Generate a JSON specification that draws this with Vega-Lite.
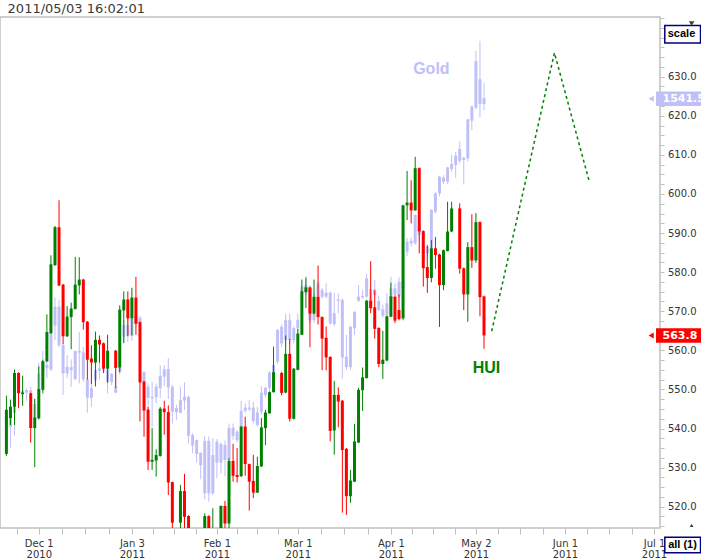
{
  "$schema": "https://vega.github.io/schema/vega-lite/v6.json",
  "width": 660,
  "height": 511,
  "autosize": {"type": "none"},
  "padding": {"left": 0, "top": 17, "right": 41, "bottom": 30},
  "background": "white",
  "config": {"view": {"stroke": "#c0c0c0", "strokeWidth": 1.5}},
  "datasets": {
    "bars": [
      {"t":-8,"o":533.5,"h":548.4,"l":533.0,"c":544.8,"go":1352,"gh":1362,"gl":1347,"gc":1358},
      {"t":-7,"o":542.7,"h":547.4,"l":540.9,"c":545.6,"go":1358,"gh":1361,"gl":1340,"gc":1352},
      {"t":-6,"o":545.6,"h":555.1,"l":540.9,"c":554.2,"go":1360,"gh":1373,"gl":1347,"gc":1371.5},
      {"t":-5,"o":554.2,"h":554.4,"l":545.2,"c":549.0,"go":1371.5,"gh":1375,"gl":1366,"gc":1372.5},
      {"t":-4,"o":548.8,"h":553.5,"l":545.8,"c":549.2,"go":1372.8,"gh":1376,"gl":1369,"gc":1371.3},
      {"t":-3,"go":1371.6,"gh":1374.2,"gl":1367,"gc":1373.2},
      {"t":-2,"o":549.0,"h":549.2,"l":536.4,"c":540.1,"go":1373,"gh":1375,"gl":1369,"gc":1371.6},
      {"t":-1,"o":540.1,"h":547.6,"l":530.1,"c":542.8,"go":1356.9,"gh":1368,"gl":1352,"gc":1365.1},
      {"t":0,"o":542.6,"h":555.9,"l":542.3,"c":550.1,"go":1373.6,"gh":1388.9,"gl":1372,"gc":1382.8},
      {"t":1,"o":549.9,"h":557.6,"l":549.0,"c":557.2,"go":1383.7,"gh":1395.7,"gl":1382,"gc":1389.5},
      {"t":2,"o":557.2,"h":569.2,"l":557.0,"c":564.7,"go":1385.7,"gh":1392,"gl":1380,"gc":1387.6},
      {"t":3,"o":564.4,"h":584.3,"l":564.2,"c":582.0,"go":1385.1,"gh":1407,"gl":1384,"gc":1405.9},
      {"t":4,"o":581.8,"h":591.8,"l":581.6,"c":591.5,"go":1410.3,"gh":1426.6,"gl":1402,"gc":1421.2},
      {"t":5,"o":591.5,"h":598.4,"l":576.4,"c":576.6,"go":1421.2,"gh":1425.1,"gl":1398,"gc":1399.1},
      {"t":6,"o":576.8,"h":577.0,"l":561.6,"c":563.6,"go":1399.1,"gh":1400,"gl":1370.3,"gc":1382.8},
      {"t":7,"o":563.6,"h":571.3,"l":563.4,"c":568.6,"go":1382.8,"gh":1393.4,"gl":1380,"gc":1386.6},
      {"t":8,"o":568.5,"h":572.2,"l":560.3,"c":570.7,"go":1386.4,"gh":1390.9,"gl":1375,"gc":1384.7},
      {"t":9,"o":570.6,"h":583.9,"l":570.4,"c":576.8,"go":1379.5,"gh":1395.9,"gl":1379,"gc":1395.7},
      {"t":10,"o":576.6,"h":583.8,"l":574.3,"c":578.1,"go":1395.7,"gh":1406.6,"gl":1377,"gc":1394.7},
      {"t":11,"o":578.1,"h":578.3,"l":565.3,"c":567.2,"go":1394.9,"gh":1398.2,"gl":1378,"gc":1379.4},
      {"t":12,"o":567.3,"h":567.5,"l":552.5,"c":557.6,"go":1379.4,"gh":1379.6,"gl":1360.1,"gc":1368.7},
      {"t":13,"o":557.9,"h":561.3,"l":551.4,"c":556.9,"go":1368.7,"gh":1385.7,"gl":1363.5,"gc":1374.2},
      {"t":14,"o":556.9,"h":564.8,"l":550.8,"c":562.7,"go":1378.9,"gh":1394.3,"gl":1375.1,"gc":1384.7},
      {"t":15,"o":562.7,"h":563.8,"l":556.8,"c":561.5,"go":1384.1,"gh":1388.9,"gl":1379.5,"gc":1385.7},
      {"t":16,"o":561.8,"h":562.0,"l":554.2,"c":555.3,"go":1384.4,"gh":1392.4,"gl":1382.8,"gc":1385.1},
      {"t":17,"o":555.3,"h":564.0,"l":551.7,"c":559.9,"go":1384.9,"gh":1386,"gl":1371.3,"gc":1377.9},
      {"t":18,"go":1377.8,"gh":1383,"gl":1376,"gc":1382.4},
      {"t":19,"o":559.9,"h":560.1,"l":550.4,"c":555.5,"go":1375.1,"gh":1386.6,"gl":1371.3,"gc":1371.6},
      {"t":20,"o":555.6,"h":571.5,"l":554.4,"c":570.4,"go":1383.7,"gh":1387,"gl":1382,"gc":1386.0},
      {"t":21,"o":570.2,"h":575.1,"l":561.9,"c":573.0,"go":1403.9,"gh":1413.5,"gl":1400.1,"gc":1410.7},
      {"t":22,"o":573.0,"h":575.1,"l":563.6,"c":568.2,"go":1410.7,"gh":1414.7,"gl":1400.9,"gc":1404.5},
      {"t":23,"o":568.2,"h":576.0,"l":563.8,"c":573.5,"go":1404.5,"gh":1416.6,"gl":1401.5,"gc":1414.3},
      {"t":24,"o":573.5,"h":578.8,"l":564.0,"c":566.8,"go":1415.9,"gh":1417,"gl":1410,"gc":1411.6},
      {"t":25,"o":567.2,"h":567.4,"l":541.8,"c":551.8,"go":1414.9,"gh":1416,"gl":1410,"gc":1411.6},
      {"t":26,"o":552.0,"h":552.2,"l":537.9,"c":544.6,"go":1383.6,"gh":1384,"gl":1361.6,"gc":1378},
      {"t":27,"o":544.8,"h":545.5,"l":529.4,"c":531.5,"go":1375.1,"gh":1377,"gl":1359.7,"gc":1368.7},
      {"t":28,"o":531.5,"h":540.1,"l":529.4,"c":532.0,"go":1369.3,"gh":1377.8,"gl":1352,"gc":1368.4},
      {"t":29,"o":531.8,"h":534.7,"l":527.7,"c":533.2,"go":1369,"gh":1377,"gl":1365.5,"gc":1375.1},
      {"t":30,"o":533.0,"h":545.5,"l":532.8,"c":545.1,"go":1374.2,"gh":1387.4,"gl":1368.4,"gc":1381.3},
      {"t":31,"o":545.1,"h":547.1,"l":538.4,"c":544.2,"go":1380.9,"gh":1387.4,"gl":1375.5,"gc":1385.1},
      {"t":32,"o":544.2,"h":545.9,"l":523.0,"c":526.2,"go":1385.3,"gh":1391.5,"gl":1368,"gc":1374.7},
      {"t":33,"o":526.3,"h":526.4,"l":512,"c":515.9,"go":1375.1,"gh":1376,"gl":1353.9,"gc":1360.7},
      {"t":34,"go":1362.8,"gh":1364.5,"gl":1355.9,"gc":1360.3},
      {"t":35,"o":515.9,"h":525.6,"l":514.3,"c":524.0,"go":1360.1,"gh":1375.1,"gl":1359.7,"gc":1367.4},
      {"t":36,"o":524.0,"h":528.4,"l":513,"c":517.4,"go":1367.1,"gh":1377.6,"gl":1361.6,"gc":1369.3},
      {"t":37,"o":517.6,"h":517.8,"l":510,"c":512,"go":1369.3,"gh":1369.7,"gl":1342.3,"gc":1346.8},
      {"t":38,"o":511,"h":513,"l":507,"c":509,"go":1347.2,"gh":1348.2,"gl":1336.7,"gc":1341.1},
      {"t":39,"o":509,"h":512,"l":506,"c":510,"go":1344.3,"gh":1344.5,"gl":1331.3,"gc":1336.3},
      {"t":40,"o":510,"h":513,"l":507,"c":512,"go":1337,"gh":1337.2,"gl":1321.7,"gc":1329.8},
      {"t":41,"o":513,"h":518.3,"l":511,"c":517.6,"go":1313.6,"gh":1346.7,"gl":1310.1,"gc":1343.8},
      {"t":42,"o":517.6,"h":517.8,"l":511,"c":513,"go":1343.8,"gh":1346.3,"gl":1308.8,"gc":1313.6},
      {"t":43,"o":512,"h":519.6,"l":510,"c":514,"go":1313.6,"gh":1345.3,"gl":1312.6,"gc":1335.7},
      {"t":44,"o":513,"h":514.5,"l":510,"c":512,"go":1331.3,"gh":1344.9,"gl":1322.3,"gc":1343.4},
      {"t":45,"o":513,"h":520.3,"l":512,"c":520.2,"go":1331.3,"gh":1342.8,"gl":1325.1,"gc":1342},
      {"t":46,"o":520.2,"h":521.5,"l":514,"c":515.7,"go":1341.5,"gh":1344,"gl":1323.6,"gc":1332.8},
      {"t":47,"o":515.7,"h":532.4,"l":514,"c":531.7,"go":1332.8,"gh":1353.9,"gl":1331.8,"gc":1351.4},
      {"t":48,"o":531.7,"h":536.1,"l":526.4,"c":527.9,"go":1351.4,"gh":1353.9,"gl":1344.3,"gc":1346.7},
      {"t":49,"o":528.1,"h":535.0,"l":526.2,"c":527.6,"go":1344.3,"gh":1350,"gl":1343,"gc":1349.1},
      {"t":50,"o":527.8,"h":540.6,"l":527.6,"c":540.5,"go":1352,"gh":1367,"gl":1351,"gc":1361.2},
      {"t":51,"o":540.5,"h":543.0,"l":527.9,"c":530.9,"go":1361.2,"gh":1365.5,"gl":1360,"gc":1363},
      {"t":52,"o":530.9,"h":531.0,"l":519.0,"c":526.4,"go":1363,"gh":1367.4,"gl":1361,"gc":1362},
      {"t":53,"o":526.6,"h":533.3,"l":522.2,"c":523.6,"go":1363,"gh":1366.4,"gl":1354,"gc":1355.3},
      {"t":54,"o":523.6,"h":532.8,"l":523.5,"c":530.4,"go":1353,"gh":1363.5,"gl":1352,"gc":1360.3},
      {"t":55,"o":530.3,"h":542.7,"l":530.2,"c":540.3,"go":1360.7,"gh":1375.5,"gl":1359,"gc":1371.6},
      {"t":56,"o":540.1,"h":544.8,"l":535.8,"c":544.1,"go":1370.3,"gh":1375.1,"gl":1369,"gc":1374.5},
      {"t":57,"o":543.9,"h":549.5,"l":543.8,"c":549.3,"go":1374.2,"gh":1384,"gl":1373,"gc":1383.2},
      {"t":58,"o":549.3,"h":560.9,"l":549.2,"c":554.4,"go":1383.2,"gh":1388,"gl":1382,"gc":1387.6},
      {"t":59,"go":1389.5,"gh":1408.4,"gl":1388,"gc":1407.8},
      {"t":60,"o":554.2,"h":554.5,"l":548.5,"c":549.1,"go":1409.7,"gh":1411,"gl":1398,"gc":1400},
      {"t":61,"o":549.2,"h":563.8,"l":549.0,"c":559.1,"go":1402,"gh":1417,"gl":1398.2,"gc":1413.5},
      {"t":62,"o":559.1,"h":562.9,"l":541.8,"c":542.5,"go":1413.5,"gh":1417,"gl":1400,"gc":1402},
      {"t":63,"o":542.5,"h":555.5,"l":542.3,"c":555.3,"go":1402,"gh":1409.7,"gl":1400,"gc":1408.8},
      {"t":64,"o":555.0,"h":565.5,"l":554.9,"c":564.3,"go":1408.8,"gh":1417.4,"gl":1407,"gc":1413.5},
      {"t":65,"o":564.0,"h":578.1,"l":563.9,"c":575.1,"go":1429.9,"gh":1434,"gl":1428,"gc":1432.8},
      {"t":66,"o":574.9,"h":578.6,"l":570.8,"c":576.1,"go":1429.3,"gh":1439,"gl":1428,"gc":1433.7},
      {"t":67,"o":576.1,"h":576.3,"l":560.8,"c":569.4,"go":1431.8,"gh":1433.7,"gl":1412,"gc":1413.5},
      {"t":68,"o":569.4,"h":578.1,"l":569.2,"c":573.7,"go":1413.5,"gh":1429,"gl":1412,"gc":1417},
      {"t":69,"o":573.7,"h":581.7,"l":566.6,"c":568.5,"go":1427,"gh":1436,"gl":1426,"gc":1434.7},
      {"t":70,"o":568.5,"h":568.7,"l":554.9,"c":563.0,"go":1430.9,"gh":1432,"gl":1426,"gc":1427},
      {"t":71,"o":563.2,"h":566.1,"l":554.9,"c":558.2,"go":1429.3,"gh":1434.7,"gl":1426,"gc":1427},
      {"t":72,"o":558.3,"h":558.5,"l":536.7,"c":539.4,"go":1429.3,"gh":1430,"gl":1411,"gc":1411.6},
      {"t":73,"o":539.5,"h":552.2,"l":533.3,"c":548.6,"go":1411.2,"gh":1429.3,"gl":1410,"gc":1417.4},
      {"t":74,"o":548.6,"h":550.5,"l":540.3,"c":546.9,"go":1425.5,"gh":1429,"gl":1417.4,"gc":1424.7},
      {"t":75,"o":547.1,"h":547.3,"l":518.5,"c":534.5,"go":1425.1,"gh":1426,"gl":1379.9,"gc":1391.9},
      {"t":76,"o":534.8,"h":535.0,"l":517.9,"c":522.7,"go":1392.4,"gh":1404.9,"gl":1384.7,"gc":1386.3},
      {"t":77,"o":522.7,"h":529.4,"l":521.0,"c":526.7,"go":1386.3,"gh":1410,"gl":1385,"gc":1409.7},
      {"t":78,"o":526.4,"h":541.2,"l":526.3,"c":536.7,"go":1408.8,"gh":1418.5,"gl":1404.9,"gc":1418.3},
      {"t":79,"o":536.4,"h":550.4,"l":536.3,"c":549.9,"go":1424.7,"gh":1433.7,"gl":1424,"gc":1427},
      {"t":80,"o":549.8,"h":555.6,"l":544.5,"c":553.1,"go":1426.6,"gh":1430.9,"gl":1426,"gc":1427.4},
      {"t":81,"o":552.9,"h":572.9,"l":552.8,"c":572.7,"go":1427,"gh":1440.1,"gl":1426.5,"gc":1437.6},
      {"t":82,"o":572.7,"h":582.8,"l":569.5,"c":570.8,"go":1431.3,"gh":1432,"gl":1420,"gc":1420.3},
      {"t":83,"o":571.0,"h":575.3,"l":563.0,"c":565.5,"go":1428,"gh":1436.6,"gl":1427,"gc":1431.3},
      {"t":84,"o":565.7,"h":565.9,"l":555.7,"c":556.5,"go":1424.5,"gh":1427.6,"gl":1418.5,"gc":1419.3},
      {"t":85,"o":556.5,"h":565.0,"l":552.7,"c":557.6,"go":1419.7,"gh":1422.5,"gl":1415,"gc":1415.9},
      {"t":86,"o":557.4,"h":568.9,"l":557.2,"c":568.7,"go":1416.4,"gh":1429,"gl":1415.5,"gc":1423.2},
      {"t":87,"o":568.6,"h":577.3,"l":568.5,"c":573.8,"go":1426,"gh":1438.5,"gl":1425.1,"gc":1431.8},
      {"t":88,"o":573.7,"h":574.0,"l":567.0,"c":567.6,"go":1431.8,"gh":1434.7,"gl":1427,"gc":1428},
      {"t":89,"o":570.3,"h":574.3,"l":567.7,"c":568.0,"go":1427,"gh":1438.2,"gl":1426,"gc":1435.6},
      {"t":90,"o":568.2,"h":597.2,"l":567.7,"c":597.1,"go":1432,"gh":1438,"gl":1430,"gc":1436},
      {"t":91,"o":597.1,"h":605.9,"l":593.3,"c":597.8,"go":1453,"gh":1460.7,"gl":1450.5,"gc":1458.7},
      {"t":92,"o":597.8,"h":603.5,"l":592.5,"c":595.8,"go":1459.3,"gh":1461.2,"gl":1456,"gc":1457.8},
      {"t":93,"o":595.8,"h":609.5,"l":595.7,"c":606.6,"go":1457.8,"gh":1474.5,"gl":1457,"gc":1474.1},
      {"t":94,"o":606.6,"h":606.8,"l":584.8,"c":590.4,"go":1467.4,"gh":1470,"gl":1460,"gc":1462.6},
      {"t":95,"o":590.5,"h":590.7,"l":576.3,"c":581.0,"go":1456.8,"gh":1458,"gl":1450,"gc":1452},
      {"t":96,"o":581.3,"h":586.9,"l":574.7,"c":578.5,"go":1452,"gh":1457,"gl":1450,"gc":1455.8},
      {"t":97,"o":578.5,"h":588.2,"l":577.4,"c":586.1,"go":1453.9,"gh":1477.5,"gl":1453,"gc":1477},
      {"t":98,"o":586.1,"h":589.0,"l":580.9,"c":584.4,"go":1476,"gh":1487.2,"gl":1475,"gc":1486.6},
      {"t":99,"o":584.5,"h":584.7,"l":566.0,"c":576.7,"go":1486.6,"gh":1496.8,"gl":1485,"gc":1496.2},
      {"t":100,"o":576.7,"h":585.8,"l":575.4,"c":585.6,"go":1493.3,"gh":1497,"gl":1492,"gc":1495.6},
      {"t":101,"o":585.4,"h":598.0,"l":585.3,"c":590.4,"go":1493.3,"gh":1501.8,"gl":1492,"gc":1501.6},
      {"t":102,"o":590.4,"h":598.0,"l":590.2,"c":596.3,"go":1500.6,"gh":1508.8,"gl":1499,"gc":1503.5},
      {"t":103,"go":1502.9,"gh":1510.6,"gl":1495.6,"gc":1508.3},
      {"t":104,"o":596.3,"h":597.6,"l":579.6,"c":580.9,"go":1505.4,"gh":1516.4,"gl":1504,"gc":1512.2},
      {"t":105,"o":581.0,"h":581.2,"l":570.3,"c":574.3,"go":1507.1,"gh":1507.5,"gl":1491.7,"gc":1505.8},
      {"t":106,"o":574.3,"h":587.7,"l":567.3,"c":586.4,"go":1506.8,"gh":1529.5,"gl":1505,"gc":1529.3},
      {"t":107,"o":586.4,"h":594.8,"l":581.1,"c":583.0,"go":1528.5,"gh":1537.5,"gl":1523.1,"gc":1536.6},
      {"t":108,"o":583.0,"h":595.1,"l":582.4,"c":592.8,"go":1536,"gh":1568.7,"gl":1535,"gc":1562.9},
      {"t":109,"o":592.8,"h":593.0,"l":568.7,"c":573.6,"go":1552.4,"gh":1574.5,"gl":1530.4,"gc":1538.1},
      {"t":110,"o":573.8,"h":574.0,"l":560.4,"c":563.8,"go":1538.1,"gh":1550.1,"gl":1534.7,"gc":1541.5}
    ],
    "proj": [
      {"t": 111.9, "v": 564.9},
      {"t": 127.4, "v": 636.1},
      {"t": 135.9, "v": 603.6}
    ]
  },
  "layer": [
    {
      "data": {"name": "bars"},
      "layer": [
        {
          "mark": {"type": "rule", "color": "#c0c0f8", "strokeWidth": 1},
          "encoding": {
            "x": {"field": "t", "type": "quantitative", "scale": {"domain": [-8.35, 152.25], "nice": false, "zero": false},
              "axis": {
                "values": [-5.5, 0, 5.75, 11.5, 17.25, 23, 28.25, 33.5, 38.75, 44, 49, 54, 59, 64, 69.75, 75.5, 81.25, 87, 92.25, 97.5, 102.75, 108, 113.5, 119, 124.5, 130, 135.5, 141, 146.5, 152],
                "tickCount": 200,
                "labelExpr": "datum.value == 0 ? ['Dec 1','2010'] : datum.value == 23 ? ['Jan 3','2011'] : datum.value == 44 ? ['Feb 1','2011'] : datum.value == 64 ? ['Mar 1','2011'] : datum.value == 87 ? ['Apr 1','2011'] : datum.value == 108 ? ['May 2','2011'] : datum.value == 130 ? ['Jun 1','2011'] : datum.value == 152 ? ['Jul 1','2011'] : ''",
                "title": null, "grid": false, "domain": false,
                "tickColor": "#c0c0c0", "tickWidth": 1, "tickSize": 6,
                "labelFont": "DejaVu Sans", "labelFontSize": 10, "labelColor": "#333333",
                "labelPadding": 4, "labelLineHeight": 11,
                "labelOverlap": false, "labelBound": false, "labelFlush": false
              }
            },
            "y": {"field": "gl", "type": "quantitative", "scale": {"domain": [1293.6, 1588.3], "nice": false, "zero": false}, "axis": null},
            "y2": {"field": "gh"}
          }
        },
        {
          "mark": {"type": "bar", "color": "#c0c0f8", "width": 3, "orient": "vertical"},
          "encoding": {
            "x": {"field": "t", "type": "quantitative", "title": null},
            "y": {"field": "go", "type": "quantitative", "title": null},
            "y2": {"field": "gc"}
          }
        },
        {
          "data": {"values": [{}]},
          "mark": {"type": "text", "text": "Gold", "font": "Liberation Sans", "fontSize": 16, "fontWeight": "bold", "color": "#c0c0f8", "align": "center", "baseline": "alphabetic"},
          "encoding": {
            "x": {"datum": 97, "type": "quantitative"},
            "y": {"datum": 1555.2, "type": "quantitative"}
          }
        },
        {
          "data": {"values": [{}]},
          "mark": {"type": "rule", "color": "#c0c0f8", "strokeWidth": 14.5, "strokeCap": "butt"},
          "encoding": {
            "x": {"datum": 152.5, "type": "quantitative"},
            "x2": {"datum": 165},
            "y": {"datum": 1541.1, "type": "quantitative"}
          }
        },
        {
          "data": {"values": [{}]},
          "mark": {"type": "point", "shape": "triangle-left", "filled": true, "size": 36, "color": "#c0c0f8", "opacity": 1},
          "encoding": {
            "x": {"datum": 151.3, "type": "quantitative"},
            "y": {"datum": 1541.1, "type": "quantitative"}
          }
        },
        {
          "data": {"values": [{}]},
          "mark": {"type": "text", "text": "1541.5", "font": "DejaVu Sans", "fontSize": 11, "fontWeight": "bold", "color": "white", "align": "left", "baseline": "middle"},
          "encoding": {
            "x": {"datum": 154.1, "type": "quantitative"},
            "y": {"datum": 1541.0, "type": "quantitative"}
          }
        }
      ]
    },
    {
      "data": {"name": "bars"},
      "layer": [
        {
          "mark": {"type": "rule", "strokeWidth": 1, "clip": true},
          "encoding": {
            "x": {"field": "t", "type": "quantitative", "title": null},
            "y": {"field": "l", "type": "quantitative", "scale": {"domain": [514.55, 645.27], "nice": false, "zero": false},
              "axis": {
                "orient": "right",
                "values": [515,517.5,520,522.5,525,527.5,530,532.5,535,537.5,540,542.5,545,547.5,550,552.5,555,557.5,560,562.5,565,567.5,570,572.5,575,577.5,580,582.5,585,587.5,590,592.5,595,597.5,600,602.5,605,607.5,610,612.5,615,617.5,620,622.5,625,627.5,630,632.5,635,637.5,640,642.5,645],
                "tickCount": 200,
                "labelExpr": "datum.value % 10 == 0 ? datum.label : ''",
                "title": null, "grid": false, "domain": false,
                "tickColor": "#c0c0c0", "tickSize": 4, "tickWidth": 1,
                "labelPadding": 3.5, "labelFont": "DejaVu Sans", "labelFontSize": 10, "labelColor": "#333333",
                "labelOverlap": false, "labelBound": false, "labelFlush": false
              }
            },
            "y2": {"field": "h"},
            "color": {"condition": {"test": "datum.c >= datum.o", "value": "#008000"}, "value": "#ff0000"}
          }
        },
        {
          "mark": {"type": "bar", "width": 3, "orient": "vertical", "clip": true},
          "encoding": {
            "x": {"field": "t", "type": "quantitative", "title": null},
            "y": {"field": "o", "type": "quantitative", "title": null},
            "y2": {"field": "c"},
            "color": {"condition": {"test": "datum.c >= datum.o", "value": "#008000"}, "value": "#ff0000"}
          }
        },
        {
          "data": {"name": "proj"},
          "mark": {"type": "line", "color": "#008000", "strokeDash": [3, 3], "strokeWidth": 1.5},
          "encoding": {
            "x": {"field": "t", "type": "quantitative", "title": null},
            "y": {"field": "v", "type": "quantitative", "title": null}
          }
        },
        {
          "data": {"values": [{}]},
          "mark": {"type": "text", "text": "HUI", "font": "Liberation Sans", "fontSize": 16, "fontWeight": "bold", "color": "#008000", "align": "center", "baseline": "alphabetic"},
          "encoding": {
            "x": {"datum": 110.6, "type": "quantitative"},
            "y": {"datum": 554.2, "type": "quantitative"}
          }
        },
        {
          "data": {"values": [{}]},
          "mark": {"type": "text", "text": "2011/05/03 16:02:01", "font": "DejaVu Sans", "fontSize": 13, "color": "#3a3a3a", "align": "left", "baseline": "alphabetic"},
          "encoding": {
            "x": {"datum": -7.71, "type": "quantitative"},
            "y": {"datum": 646.37, "type": "quantitative"}
          }
        },
        {
          "data": {"values": [{}]},
          "mark": {"type": "rule", "color": "#ff0000", "strokeWidth": 14.5, "strokeCap": "butt"},
          "encoding": {
            "x": {"datum": 152.5, "type": "quantitative"},
            "x2": {"datum": 165},
            "y": {"datum": 563.8, "type": "quantitative"}
          }
        },
        {
          "data": {"values": [{}]},
          "mark": {"type": "point", "shape": "triangle-left", "filled": true, "size": 36, "color": "#ff0000", "opacity": 1},
          "encoding": {
            "x": {"datum": 151.3, "type": "quantitative"},
            "y": {"datum": 563.8, "type": "quantitative"}
          }
        },
        {
          "data": {"values": [{}]},
          "mark": {"type": "text", "text": "563.8", "font": "DejaVu Sans", "fontSize": 11, "fontWeight": "bold", "color": "white", "align": "left", "baseline": "middle"},
          "encoding": {
            "x": {"datum": 154.1, "type": "quantitative"},
            "y": {"datum": 563.7, "type": "quantitative"}
          }
        },
        {
          "data": {"values": [{}]},
          "mark": {"type": "rect", "fill": "white", "stroke": "#000080", "strokeWidth": 1.5},
          "encoding": {
            "x": {"datum": 154.67, "type": "quantitative"},
            "x2": {"datum": 163.5},
            "y": {"datum": 643.1, "type": "quantitative"},
            "y2": {"datum": 638.6}
          }
        },
        {
          "data": {"values": [{}]},
          "mark": {"type": "text", "text": "scale", "font": "Liberation Sans", "fontSize": 11, "fontWeight": "bold", "color": "black", "align": "left", "baseline": "middle"},
          "encoding": {
            "x": {"datum": 155.4, "type": "quantitative"},
            "y": {"datum": 640.8, "type": "quantitative"}
          }
        },
        {
          "data": {"values": [{}]},
          "mark": {"type": "rect", "fill": "white", "stroke": "#000080", "strokeWidth": 1.5},
          "encoding": {
            "x": {"datum": 154.67, "type": "quantitative"},
            "x2": {"datum": 163.5},
            "y": {"datum": 512.17, "type": "quantitative"},
            "y2": {"datum": 508.23}
          }
        },
        {
          "data": {"values": [{}]},
          "mark": {"type": "text", "text": "all (1)", "font": "Liberation Sans", "fontSize": 11, "fontWeight": "bold", "color": "black", "align": "left", "baseline": "middle"},
          "encoding": {
            "x": {"datum": 155.5, "type": "quantitative"},
            "y": {"datum": 510.2, "type": "quantitative"}
          }
        },
        {
          "data": {"values": [{}]},
          "mark": {"type": "point", "shape": "triangle-down", "filled": true, "size": 30, "color": "#404040", "opacity": 1},
          "encoding": {
            "x": {"datum": 161.3, "type": "quantitative"},
            "y": {"datum": 643.6, "type": "quantitative"}
          }
        },
        {
          "data": {"values": [{}]},
          "mark": {"type": "point", "shape": "triangle-up", "filled": true, "size": 14, "color": "#404040", "opacity": 1},
          "encoding": {
            "x": {"datum": 161.3, "type": "quantitative"},
            "y": {"datum": 515.2, "type": "quantitative"}
          }
        }
      ]
    }
  ],
  "resolve": {"scale": {"y": "independent"}, "axis": {"y": "independent"}}
}
